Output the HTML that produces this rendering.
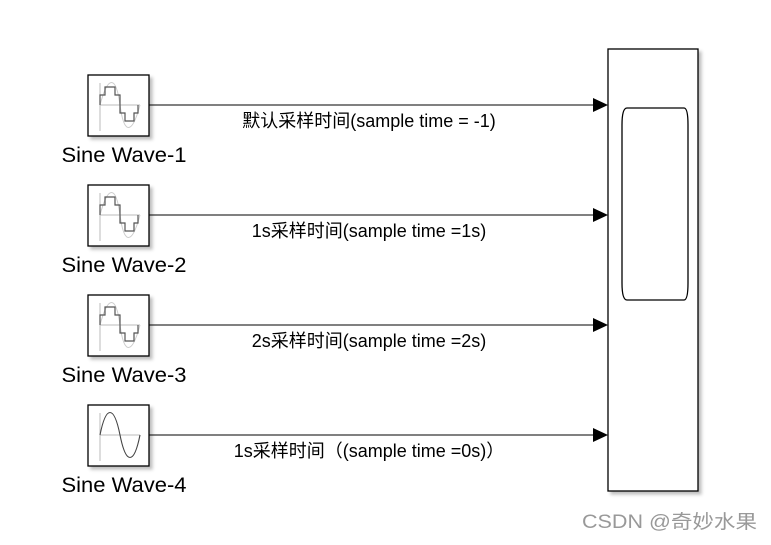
<!DOCTYPE html>
<html><head><meta charset="utf-8"><style>
body{margin:0;background:#fff;width:771px;height:540px;overflow:hidden;font-family:"Liberation Sans","Noto Sans CJK SC",sans-serif}
</style></head><body>
<svg width="771" height="540" xmlns="http://www.w3.org/2000/svg" font-family="Liberation Sans, Noto Sans CJK SC, sans-serif">
<defs>
<filter id="sh" x="-10%" y="-10%" width="130%" height="130%"><feDropShadow dx="3" dy="3" stdDeviation="1.5" flood-color="#000" flood-opacity="0.25"/></filter>
<g id="stair">
<line x1="12" y1="8" x2="12" y2="56" stroke="#bbb"/>
<line x1="12" y1="30" x2="52" y2="30" stroke="#bbb"/>
<path d="M12 30 C20 0,28 0,32 30 S44 60,52 30" fill="none" stroke="#ccc"/>
<path d="M12 30 V20 H17 V12 H27 V20 H32 V38 H37 V46 H46 V38 H50 V30" fill="none" stroke="#555" stroke-width="1.2"/>
</g>
<g id="sine">
<line x1="12" y1="8" x2="12" y2="56" stroke="#bbb"/>
<line x1="12" y1="30" x2="52" y2="30" stroke="#bbb"/>
<path d="M12 30 C18 0,26 0,32 30 S46 60,52 30" fill="none" stroke="#444" stroke-width="1.1"/>
</g>
</defs>
<g stroke="#000" stroke-width="1.3">
<rect x="88" y="75" width="61" height="61" fill="#fff" filter="url(#sh)"/>
<rect x="88" y="185" width="61" height="61" fill="#fff" filter="url(#sh)"/>
<rect x="88" y="295" width="61" height="61" fill="#fff" filter="url(#sh)"/>
<rect x="88" y="405" width="61" height="61" fill="#fff" filter="url(#sh)"/>
<rect x="608" y="49" width="90" height="442" fill="#fff" filter="url(#sh)"/>
<path d="M627 108 H684 Q688 108 688 125 V283 Q688 300 684 300 H627 Q622 300 622 283 V125 Q622 108 627 108Z" fill="none"/>
</g>
<use href="#stair" x="88" y="75"/>
<use href="#stair" x="88" y="185"/>
<use href="#stair" x="88" y="295"/>
<use href="#sine" x="88" y="405"/>
<g stroke="#000" stroke-width="1">
<line x1="149" y1="105" x2="595" y2="105"/>
<line x1="149" y1="215" x2="595" y2="215"/>
<line x1="149" y1="325" x2="595" y2="325"/>
<line x1="149" y1="435" x2="595" y2="435"/>
</g>
<g fill="#000">
<polygon points="593,98 608,105 593,112"/>
<polygon points="593,208 608,215 593,222"/>
<polygon points="593,318 608,325 593,332"/>
<polygon points="593,428 608,435 593,442"/>
</g>
<g font-size="21" text-anchor="middle" fill="#000">
<text x="124" y="162" textLength="125" lengthAdjust="spacingAndGlyphs">Sine Wave-1</text>
<text x="124" y="272" textLength="125" lengthAdjust="spacingAndGlyphs">Sine Wave-2</text>
<text x="124" y="382" textLength="125" lengthAdjust="spacingAndGlyphs">Sine Wave-3</text>
<text x="124" y="492" textLength="125" lengthAdjust="spacingAndGlyphs">Sine Wave-4</text>
</g>
<g font-size="18" text-anchor="middle" fill="#000">
<text x="369" y="127">默认采样时间(sample time = -1)</text>
<text x="369" y="237">1s采样时间(sample time =1s)</text>
<text x="369" y="347">2s采样时间(sample time =2s)</text>
<text x="369" y="457">1s采样时间（(sample time =0s)）</text>
</g>
<text x="757" y="528" font-size="19" text-anchor="end" fill="#999" textLength="175" lengthAdjust="spacingAndGlyphs">CSDN @奇妙水果</text>
</svg>
</body></html>
